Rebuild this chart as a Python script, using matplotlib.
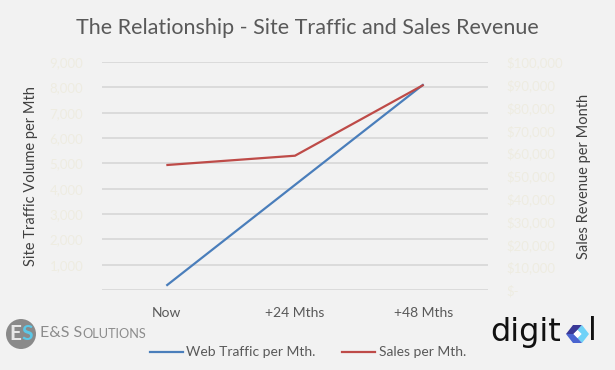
import matplotlib
matplotlib.use("Agg")
import matplotlib.pyplot as plt
from matplotlib.patches import Circle, Polygon
from matplotlib.transforms import IdentityTransform
from matplotlib.ticker import FuncFormatter

categories = ["Now", "+24 Mths", "+48 Mths"]
web_traffic = [170, 4150, 8120]
sales = [54800, 58900, 90000]
left_ticks = list(range(0, 10000, 1000))
right_ticks = list(range(0, 110000, 10000))

W, H = 615, 370
BG = "#F2F2F2"
TXT = "#595959"
TICKC = "#EEECE1"
BLUE = "#4A7EBB"
RED = "#BE4B48"
FONT = "Lato"

plt.rcParams["font.family"] = [FONT, "DejaVu Sans"]

fig = plt.figure(figsize=(W / 100, H / 100), dpi=100, facecolor=BG)
PX = IdentityTransform()


def fx(x):
    return x / W


def fy(y):
    return 1 - y / H


def pts(seq):
    return [(a, H - b) for a, b in seq]


ax = fig.add_axes([fx(102), fy(290), fx(488) - fx(102), fy(62) - fy(290)])
ax.set_facecolor(BG)
x = list(range(len(categories)))
ax.plot(x, web_traffic, color=BLUE, lw=1.6, solid_capstyle="butt", zorder=3)
ax.set_xlim(-0.5, len(categories) - 0.5)
ax.set_ylim(0, 9000)
ax.set_yticks(left_ticks)
ax.yaxis.set_major_formatter(FuncFormatter(lambda v, p: f"{int(v):,}" if v else ""))
ax.set_xticks(x)
ax.set_xticklabels(categories)
ax.tick_params(axis="x", length=0, pad=12, labelsize=10, labelcolor=TXT)
ax.tick_params(axis="y", length=0, pad=13.5, labelsize=9.5, labelcolor=TICKC)
ax.grid(axis="y", color="#D9D9D9", lw=1.3)
ax.set_axisbelow(True)
for s in ax.spines.values():
    s.set_visible(False)

ax2 = ax.twinx()
ax2.plot(x, sales, color=RED, lw=1.6, solid_capstyle="butt", zorder=3)
ax2.set_ylim(0, 100000)
ax2.set_yticks(right_ticks)
ax2.yaxis.set_major_formatter(FuncFormatter(lambda v, p: f"${int(v):,}" if v else "$-"))
ax2.tick_params(axis="y", length=0, pad=13, labelsize=9.5, labelcolor=TICKC)
for s in ax2.spines.values():
    s.set_visible(False)

fig.text(fx(307), fy(28), "The Relationship - Site Traffic and Sales Revenue",
         ha="center", va="center", fontsize=15.5, color=TXT)
fig.text(fx(31), fy(176), "Site Traffic Volume per Mth", rotation=90,
         ha="center", va="center", fontsize=10.5, color="#404040")
fig.text(fx(584), fy(176), "Sales Revenue per Month", rotation=90,
         ha="center", va="center", fontsize=10.5, color="#404040")

# legend
fig.add_artist(plt.Line2D([fx(150), fx(183)], [fy(352), fy(352)], color=BLUE, lw=1.6))
fig.text(fx(186), fy(352), "Web Traffic per Mth.", ha="left", va="center", fontsize=10, color=TXT)
fig.add_artist(plt.Line2D([fx(342), fx(375)], [fy(352), fy(352)], color=RED, lw=1.6))
fig.text(fx(379), fy(352), "Sales per Mth.", ha="left", va="center", fontsize=10, color=TXT)

# E&S Solutions logo
fig.add_artist(Circle((21, H - 334), 15, transform=PX,
                      facecolor="#8A8A8A", edgecolor="none"))
fig.text(fx(15), fy(334), "E", ha="center", va="center", fontsize=15,
         color="#E8E8E8", fontweight="bold")
fig.text(fx(27), fy(334), "S", ha="center", va="center", fontsize=15,
         color="#5BC8E8", fontweight="bold")
t1 = fig.text(fx(40), fy(333), "E&S S", ha="left", va="center", fontsize=11.5, color="#8C8C8C")
r = fig.canvas.get_renderer()
bb = t1.get_window_extent(r)
fig.text(bb.x1 / W, fy(333) - 0.003, "OLUTIONS", ha="left", va="center", fontsize=9.2, color="#8C8C8C")

# digitol logo
fig.text(fx(490), fy(332), "digit", ha="left", va="center", fontsize=23,
         color="#111111", family=["DejaVu Sans"])
parts = [
    ("#3A3896", [(566, 334), (573, 325), (582, 325), (577.5, 330), (573.5, 334)]),
    ("#70D2F8", [(582, 325), (589, 334), (582, 343), (577.5, 338), (581.5, 334), (577.5, 330)]),
    ("#4A64D0", [(566, 334), (573.5, 334), (577.5, 338), (582, 343), (573, 343)]),
    ("#FFFFFF", [(573.5, 334), (577.5, 330), (581.5, 334), (577.5, 338)]),
]
for col, poly in parts:
    fig.add_artist(Polygon(pts(poly), closed=True, transform=PX, facecolor=col, edgecolor="none"))
fig.text(fx(588), fy(332), "l", ha="left", va="center", fontsize=23,
         color="#111111", family=["DejaVu Sans"])

fig.savefig("out.png", dpi=100, facecolor=BG)
